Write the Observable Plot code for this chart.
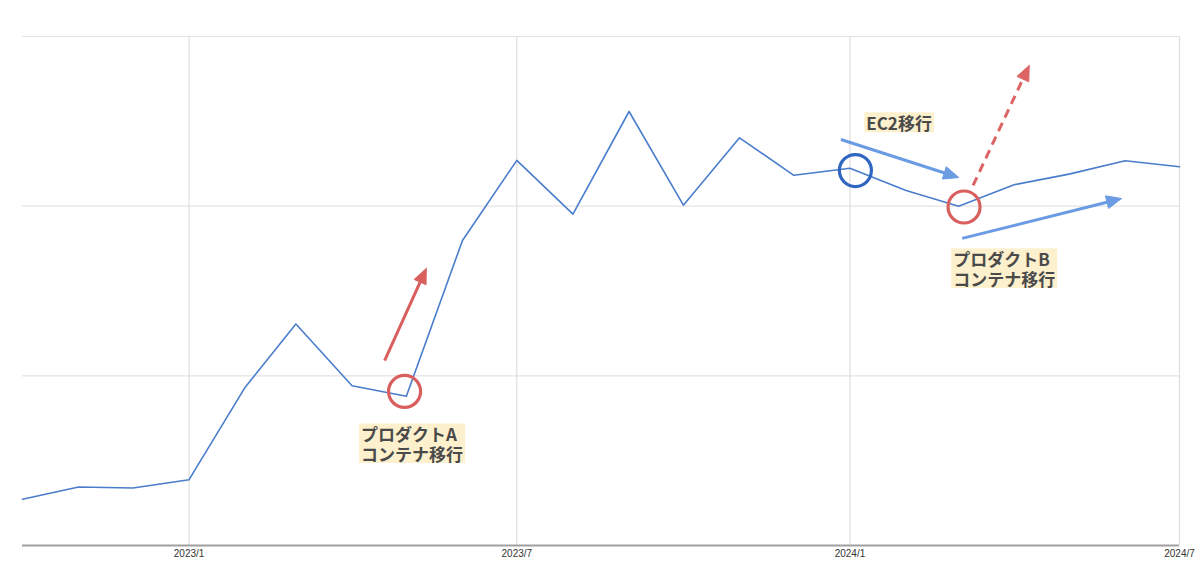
<!DOCTYPE html>
<html><head><meta charset="utf-8">
<script src="https://cdn.jsdelivr.net/npm/d3@7"></script>
<script src="https://cdn.jsdelivr.net/npm/@observablehq/plot@0.6"></script>
<style>
body{margin:0;background:#fff;}
#chart{width:1200px;height:570px;}
</style>
</head><body><div id="chart"></div>
<script>
// ---- data ----
const months = ["2022-10","2022-11","2022-12","2023-01","2023-02","2023-03","2023-04","2023-05","2023-06","2023-07","2023-08","2023-09","2023-10","2023-11","2023-12","2024-01","2024-02","2024-03","2024-04","2024-05","2024-06","2024-07"];
const values = [27.3,34.5,33.9,38.8,93.3,130.5,94.2,88.0,179.8,227,195.3,255.8,200.6,240.3,218.2,222.3,209.2,200,212.7,218.9,226.8,223.2];
const tickMonths = ["2023-01","2023-07","2024-01","2024-07"];
const tickLabels = ["2023/1","2023/7","2024/1","2024/7"];
const gridValues = [100,200,300];

// ---- annotations (data coordinates) ----
const circleDates = ["2023-04-30","2024-01-04","2024-03-04"];
const circleValues = [90.8,221,199.5];
const circleKinds = ["red","blue","red"];

const arrowStartDates = ["2023-04-19","2023-12-27","2024-03-09","2024-03-03"];
const arrowStartValues = [109,239.3,212.2,181];
const arrowEndDates = ["2023-05-12","2024-03-01","2024-04-09","2024-05-30"];
const arrowEndValues = [163.3,216.9,282.9,204.5];
const arrowKinds = ["red","blue","redDashed","blue"];

const labelTexts = ["プロダクトA\nコンテナ移行","EC2移行","プロダクトB\nコンテナ移行"];
const labelDates = ["2023-04-06","2024-01-10","2024-02-27"];
const labelValues = [69.5,252.9,172.7];

// ---- build ----
const pm = d3.utcParse("%Y-%m");
const pd = d3.utcParse("%Y-%m-%d");
const series = months.map((m,i)=>({date: pm(m), value: values[i]}));
const ticks = tickMonths.map(pm);
const circles = circleDates.map((d,i)=>({date: pd(d), value: circleValues[i], kind: circleKinds[i]}));
const arrows = arrowStartDates.map((d,i)=>({x1: pd(d), y1: arrowStartValues[i], x2: pd(arrowEndDates[i]), y2: arrowEndValues[i], kind: arrowKinds[i]}));
const labels = labelTexts.map((t,i)=>({text: t, date: pd(labelDates[i]), value: labelValues[i]}));

const colors = {red:"#d95f5f", redDashed:"#dc6464", blue:"#6a9be3", blueCircle:"#2f66c2", line:"#4a7dcc"};

const base = {
  width: 1200, height: 570,
  marginTop: 36, marginBottom: 25, marginLeft: 22, marginRight: 21,
  x: {type: "utc", domain: [pm(months[0]), pm(months[months.length-1])]},
  y: {domain: [0, 300], axis: null},
  style: {background: "#fff"}
};

// first pass to get scales
const p0 = Plot.plot({...base, marks: [Plot.lineY(series, {x:"date", y:"value"})]});
const xs = p0.scale("x"), ys = p0.scale("y");

const headLen = 15, headHalf = 6.5;
const heads = [], shafts = [];
arrows.forEach((a, i) => {
  const X1 = xs.apply(a.x1), Y1 = ys.apply(a.y1), X2 = xs.apply(a.x2), Y2 = ys.apply(a.y2);
  const dx = X2 - X1, dy = Y2 - Y1, L = Math.hypot(dx, dy);
  const ux = dx / L, uy = dy / L, nx = -uy, ny = ux;
  const bx = X2 - ux * headLen, by = Y2 - uy * headLen;
  const pts = [[X2, Y2], [bx + nx * headHalf, by + ny * headHalf], [bx - nx * headHalf, by - ny * headHalf], [X2, Y2]];
  pts.forEach(([px, py]) => heads.push({x: xs.invert(px), y: ys.invert(py), k: i, kind: a.kind}));
  shafts.push({x1: a.x1, y1: a.y1, x2: xs.invert(bx + ux * 2), y2: ys.invert(by + uy * 2), kind: a.kind});
});

const marks = [
  Plot.ruleY(gridValues, {stroke: "#e3e3e3", strokeWidth: 1.2}),
  Plot.ruleX(ticks, {stroke: "#dedede", strokeWidth: 1.2}),
  Plot.ruleY([0], {stroke: "#a0a0a0", strokeWidth: 2}),
  Plot.axisX(ticks, {tickSize: 0, tickPadding: 4, fontSize: 10, fill: "#333",
    fontFamily: "Liberation Sans, Arial, sans-serif",
    tickFormat: d => tickLabels[ticks.findIndex(t => +t === +d)]}),
  Plot.lineY(series, {x: "date", y: "value", stroke: colors.line, strokeWidth: 1.6}),
  Plot.link(shafts.filter(s => s.kind === "red"), {x1:"x1", y1:"y1", x2:"x2", y2:"y2", stroke: colors.red, strokeWidth: 3, strokeLinecap: "butt"}),
  Plot.link(shafts.filter(s => s.kind === "blue"), {x1:"x1", y1:"y1", x2:"x2", y2:"y2", stroke: colors.blue, strokeWidth: 3, strokeLinecap: "butt"}),
  Plot.link(shafts.filter(s => s.kind === "redDashed"), {x1:"x1", y1:"y1", x2:"x2", y2:"y2", stroke: colors.redDashed, strokeWidth: 3, strokeDasharray: "9,6", strokeLinecap: "butt"}),
  Plot.line(heads.filter(h => h.kind === "red"), {x:"x", y:"y", z:"k", fill: colors.red, stroke: colors.red, strokeWidth: 1}),
  Plot.line(heads.filter(h => h.kind === "blue"), {x:"x", y:"y", z:"k", fill: colors.blue, stroke: colors.blue, strokeWidth: 1}),
  Plot.line(heads.filter(h => h.kind === "redDashed"), {x:"x", y:"y", z:"k", fill: colors.redDashed, stroke: colors.redDashed, strokeWidth: 1}),
  Plot.dot(circles.filter(c => c.kind === "red"), {x:"date", y:"value", r: 16, stroke: colors.red, strokeWidth: 3.2, fill: "none"}),
  Plot.dot(circles.filter(c => c.kind === "blue"), {x:"date", y:"value", r: 16, stroke: colors.blueCircle, strokeWidth: 3.2, fill: "none"}),
  Plot.text(labels, {x:"date", y:"value", text:"text", textAnchor:"start", lineAnchor:"top",
    fontSize: 17, fontWeight: 700, lineHeight: 1.15, fill: "#4a4a4a",
    fontFamily: "Noto Sans CJK JP, sans-serif"})
];

const svg = Plot.plot({...base, marks});
document.getElementById("chart").appendChild(svg);

// label backgrounds (measured from the rendered label texts)
const ns = "http://www.w3.org/2000/svg";
Array.from(svg.querySelectorAll("text"))
  .filter(t => labelTexts.some(s => t.textContent.replace(/\s/g, "") === s.replace(/\s/g, "")))
  .forEach(t => {
    const b = t.getBBox();
    const r = document.createElementNS(ns, "rect");
    r.setAttribute("x", b.x - 2);
    r.setAttribute("y", b.y + 2);
    r.setAttribute("width", b.width + 4);
    r.setAttribute("height", Math.max(0, b.height - 5));
    r.setAttribute("fill", "#fdf0cc");
    const tr = t.getAttribute("transform");
    if (tr) r.setAttribute("transform", tr);
    t.parentNode.insertBefore(r, t);
  });
</script>
</body></html>
